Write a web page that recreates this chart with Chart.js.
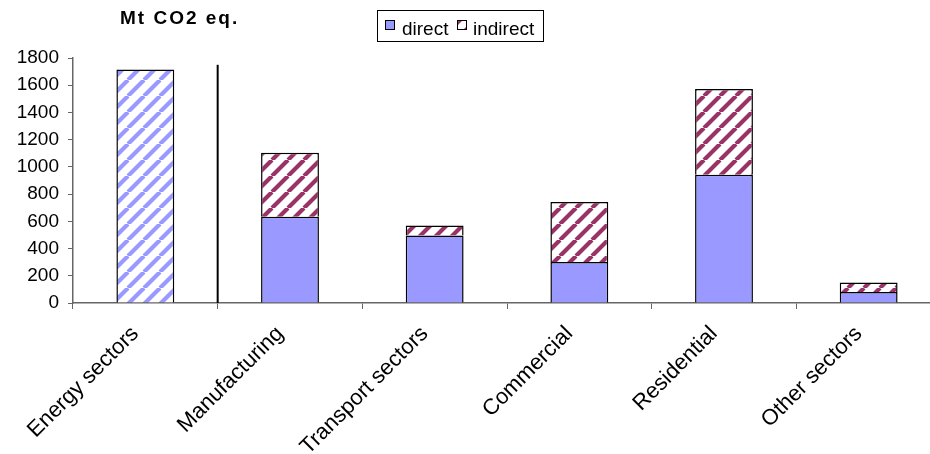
<!DOCTYPE html>
<html>
<head>
<meta charset="utf-8">
<script src="https://cdn.jsdelivr.net/npm/chart.js@4.4.0/dist/chart.umd.min.js"></script>
<style>
  html, body { margin: 0; padding: 0; background: #fff; overflow: hidden; }
  #wrap { width: 930px; height: 454px; overflow: hidden; }
</style>
</head>
<body>
<div id="wrap"><canvas id="bar-chart" width="945" height="454"></canvas></div>
<script>
const categories = ["Energy sectors", "Manufacturing", "Transport sectors", "Commercial", "Residential", "Other sectors"];
const directValues = [1715, 634, 496, 302, 943, 81];
const indirectValues = [null, 469, 74, 440, 629, 69];
const yMin = 0, yMax = 1800, yStep = 200;
const separatorTop = 1750;
const unitLabel = "Mt CO2 eq.";
const legendLabels = ["direct", "indirect"];

const FONT = "'Liberation Sans', Arial, sans-serif";
const BLUE = "#9999ff";
const MAROON = "#993366";
const AXIS = "#666";

// diagonal hatch fill like the excel pattern
function hatch(color) {
  const n = 16;
  const c = document.createElement("canvas");
  c.width = c.height = n;
  const g = c.getContext("2d");
  g.fillStyle = "#fff";
  g.fillRect(0, 0, n, n);
  g.strokeStyle = color;
  g.lineWidth = 4.2;
  g.beginPath();
  for (let k = -1; k <= 1; k++) {
    g.moveTo(k * n, n);
    g.lineTo(k * n + n, 0);
  }
  g.stroke();
  return g.createPattern(c, "repeat");
}

const blueHatch = hatch(BLUE);
const maroonHatch = hatch(MAROON);

const overlay = {
  id: "overlay",
  afterDraw(chart) {
    const ctx = chart.ctx;
    const x = chart.scales.x, y = chart.scales.y;
    ctx.save();
    // separator between energy and end-use sectors
    const sx = (x.getPixelForValue(0) + x.getPixelForValue(1)) / 2;
    ctx.strokeStyle = "#000";
    ctx.lineWidth = 2;
    ctx.beginPath();
    ctx.moveTo(sx, y.getPixelForValue(separatorTop));
    ctx.lineTo(sx, y.getPixelForValue(0));
    ctx.stroke();

    // unit title
    ctx.fillStyle = "#000";
    ctx.font = "bold 19px " + FONT;
    ctx.letterSpacing = "2px";
    ctx.textBaseline = "alphabetic";
    ctx.fillText(unitLabel, 120, 24);
    ctx.letterSpacing = "0px";

    // legend box
    ctx.lineWidth = 1;
    ctx.strokeStyle = "#000";
    ctx.strokeRect(377.5, 10.5, 166, 31);
    ctx.fillStyle = BLUE;
    ctx.fillRect(385, 20, 9, 9);
    ctx.strokeRect(385.5, 20.5, 9, 9);
    ctx.fillStyle = maroonHatch;
    ctx.fillRect(457, 20, 9, 9);
    ctx.strokeRect(457.5, 20.5, 9, 9);
    ctx.fillStyle = "#000";
    ctx.font = "19px " + FONT;
    ctx.fillText(legendLabels[0], 402, 35);
    ctx.fillText(legendLabels[1], 473, 35);
    ctx.restore();
  }
};

new Chart(document.getElementById("bar-chart"), {
  type: "bar",
  data: {
    labels: categories,
    datasets: [{
      label: legendLabels[0],
      data: directValues,
      backgroundColor: directValues.map((v, i) => i === 0 ? blueHatch : BLUE),
      borderColor: "#000",
      borderWidth: 1.5
    }, {
      label: legendLabels[1],
      data: indirectValues,
      backgroundColor: maroonHatch,
      borderColor: "#000",
      borderWidth: 1.5
    }]
  },
  options: {
    responsive: false,
    animation: false,
    layout: { padding: { top: 58, right: 4, left: 0, bottom: 0 } },
    datasets: { bar: { categoryPercentage: 0.8, barPercentage: 0.5 } },
    plugins: {
      legend: { display: false },
      title: { display: false },
      tooltip: { enabled: false }
    },
    scales: {
      x: {
        stacked: true,
        afterFit(s) { s.height = 151; },
        grid: { drawOnChartArea: false, tickLength: 6, color: AXIS, offset: true },
        border: { color: AXIS, width: 1.5 },
        ticks: {
          autoSkip: false, minRotation: 45, maxRotation: 45,
          color: "#000", font: { family: FONT, size: 22 },
          padding: 12, labelOffset: -10
        }
      },
      y: {
        stacked: true,
        min: yMin, max: yMax,
        afterFit(s) { s.width = 73; },
        grid: { drawOnChartArea: false, tickLength: 5, color: AXIS },
        border: { color: AXIS, width: 1.5 },
        ticks: {
          stepSize: yStep, color: "#000", padding: 9,
          font: { family: FONT, size: 19 },
          callback: (v) => String(v)
        }
      }
    }
  },
  plugins: [overlay]
});
</script>
</body>
</html>
